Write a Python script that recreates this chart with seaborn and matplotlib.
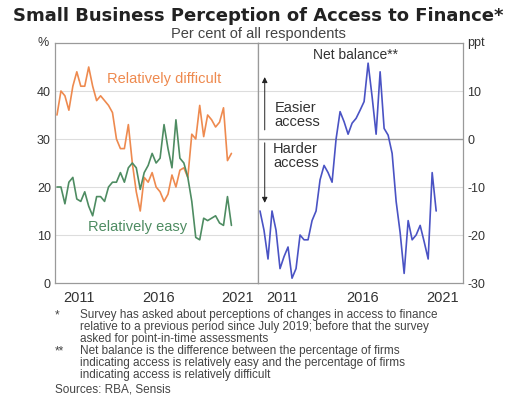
import numpy as np
import pandas as pd
import matplotlib
matplotlib.use("Agg")
import matplotlib.pyplot as plt
import seaborn as sns

# quarterly survey, plotted at mid-quarter (Feb 2010 .. Feb 2021)
quarters = np.arange(2010.125, 2021.2, 0.25)

difficult = [35, 40, 39, 36, 41, 44, 41, 41, 45, 41,
             38, 39, 38, 37, 35.5, 30, 28, 28, 33, 25,
             19, 15, 22, 21, 23, 20, 19, 17, 18.5, 22.5,
             20, 23.5, 24, 22, 31, 30, 37, 30.5, 35, 34,
             32.5, 33.5, 36.5, 25.5, 27]
easy = [20, 20, 16.5, 21, 22, 17.5, 17, 19, 16, 14,
        18, 18, 17, 20, 21, 21, 23, 21, 24, 25,
        24, 19.5, 23, 24.5, 27, 25, 26, 33, 28, 24,
        34, 26, 25, 22, 17, 9.5, 9, 13.5, 13, 13.5,
        14, 12.5, 12, 18, 12]
net_balance = [-15, -19, -25, -15, -19, -27, -24.5, -22.5, -29, -27,
               -20, -21, -21, -17, -15, -8.5, -5.5, -7, -9, 0,
               5.7, 3.6, 1, 3.3, 4.3, 6, 7.8, 15.8, 8.8, 1,
               14, 2.2, 0.8, -3, -13, -19.5, -28, -17, -21, -20,
               -18, -21.4, -25, -7, -15]

left_yticks = [0, 10, 20, 30, 40]
right_yticks = [-30, -20, -10, 0, 10]
year_labels = ["2011", "2016", "2021"]

footnote_star = ["Survey has asked about perceptions of changes in access to finance",
                 "relative to a previous period since July 2019; before that the survey",
                 "asked for point-in-time assessments"]
footnote_net = ["Net balance is the difference between the percentage of firms",
                "indicating access is relatively easy and the percentage of firms",
                "indicating access is relatively difficult"]

ORANGE = "#ee8a4f"
GREEN = "#4e8c62"
BLUE = "#4a53c4"
TXT = "#333333"
NOTE = "#444444"

sns.set_style("white")
plt.rcParams["font.family"] = ["Liberation Sans", "DejaVu Sans"]
plt.rcParams["axes.unicode_minus"] = False

df = pd.DataFrame({"date": quarters, "difficult": difficult,
                   "easy": easy, "net": net_balance})

W, H = 515, 398
fig = plt.figure(figsize=(W / 100, H / 100), dpi=100)


def box(x0, y0, x1, y1):
    return [x0 / W, 1 - y1 / H, (x1 - x0) / W, (y1 - y0) / H]


ax1 = fig.add_axes(box(55, 43, 258, 283))
ax2 = fig.add_axes(box(258, 43, 463, 283))

sns.lineplot(data=df, x="date", y="difficult", ax=ax1, color=ORANGE, lw=1.2)
sns.lineplot(data=df, x="date", y="easy", ax=ax1, color=GREEN, lw=1.2)
sns.lineplot(data=df, x="date", y="net", ax=ax2, color=BLUE, lw=1.2)

ax1.set_ylim(0, 50)
ax2.set_ylim(-30, 20)

for ax in (ax1, ax2):
    ax.set_xlim(2010, 2022.8)
    ax.set_xlabel("")
    ax.set_ylabel("")
    ax.set_xticks(np.arange(2011, 2023), labels=[])
    ax.set_xticks([int(y) + 0.5 for y in year_labels], labels=year_labels, minor=True)
    ax.tick_params(axis="x", which="major", direction="in", length=3,
                   color="#888888", width=0.8)
    ax.tick_params(axis="x", which="minor", length=0, pad=6,
                   labelsize=10.5, labelcolor=TXT)
    ax.tick_params(axis="y", length=0, labelsize=9, labelcolor=TXT, pad=3)
    for s in ax.spines.values():
        s.set_color("#9a9a9a")
        s.set_linewidth(0.9)

ax1.set_yticks(left_yticks)
for v in left_yticks[1:]:
    ax1.axhline(v, color="#dddddd", lw=0.8, zorder=0)

ax2.set_yticks(right_yticks)
ax2.yaxis.tick_right()
for v in right_yticks[1:]:
    ax2.axhline(v, color="#999999" if v == 0 else "#dddddd",
                lw=1.0 if v == 0 else 0.8, zorder=0)

# unit labels in the place of the top ticks
ax1.text(-0.03, 1.0, "%", transform=ax1.transAxes, ha="right", va="center",
         fontsize=9, color=TXT)
ax2.text(1.02, 1.0, "ppt", transform=ax2.transAxes, ha="left", va="center",
         fontsize=9, color=TXT)

# series labels
ax1.text(2016.9, 42.5, "Relatively difficult", color=ORANGE, fontsize=10.5,
         ha="center", va="center")
ax1.text(2015.2, 11.7, "Relatively easy", color=GREEN, fontsize=10.5,
         ha="center", va="center")
ax2.text(2016.1, 17.5, "Net balance**", color=TXT, fontsize=10,
         ha="center", va="center")
ax2.text(2011.05, 5, "Easier\naccess", color=TXT, fontsize=10.5,
         ha="left", va="center", linespacing=1.0)
ax2.text(2010.95, -3.6, "Harder\naccess", color=TXT, fontsize=10.5,
         ha="left", va="center", linespacing=1.0)

arrow = dict(arrowstyle="-|>", color="#222222", lw=0.7,
             mutation_scale=8, shrinkA=0, shrinkB=0)
ax2.annotate("", xy=(2010.42, 12.9), xytext=(2010.42, 1.9), arrowprops=arrow)
ax2.annotate("", xy=(2010.42, -13.3), xytext=(2010.42, -0.8), arrowprops=arrow)

# titles
fig.text(258 / W, 1 - 16 / H, "Small Business Perception of Access to Finance*",
         ha="center", va="center", fontsize=13, fontweight="bold",
         family="DejaVu Sans", color="#222222")
fig.text(258 / W, 1 - 34 / H, "Per cent of all respondents",
         ha="center", va="center", fontsize=10.5, color=NOTE)

# footnotes
fig.text(55 / W, 1 - 315 / H, "*", ha="left", va="center", fontsize=8.5, color=NOTE)
for k, line in enumerate(footnote_star):
    fig.text(80 / W, 1 - (315 + 12 * k) / H, line, ha="left", va="center",
             fontsize=8.5, color=NOTE)
fig.text(55 / W, 1 - 351 / H, "**", ha="left", va="center", fontsize=8.5, color=NOTE)
for k, line in enumerate(footnote_net):
    fig.text(80 / W, 1 - (351 + 12 * k) / H, line, ha="left", va="center",
             fontsize=8.5, color=NOTE)
fig.text(55 / W, 1 - 389 / H, "Sources: RBA, Sensis", ha="left", va="center",
         fontsize=8.5, color=NOTE)

fig.savefig("out.png", dpi=100)
